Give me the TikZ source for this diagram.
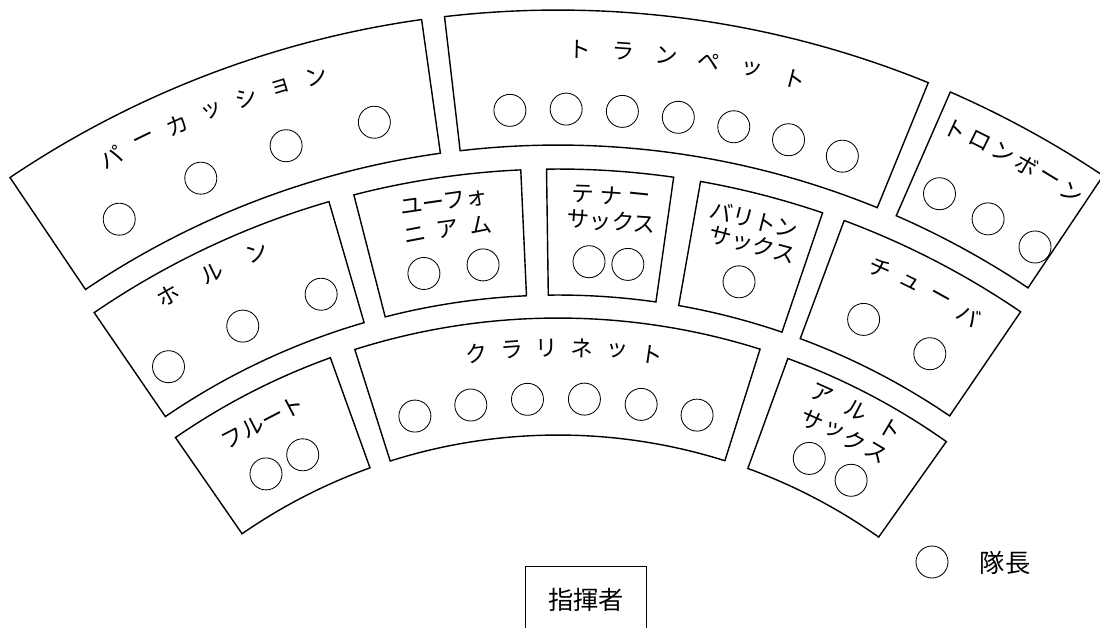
\documentclass[tikz,border=0pt]{standalone}
\usepackage{fontspec}
\newfontfamily\jp{Noto Sans CJK JP}
\newcommand\sectorbox[5]{% name, theta1, theta2, rin, rout
  \draw[box] ({90-(#2)}:#5) arc[start angle={90-(#2)}, end angle={90-(#3)}, radius=#5]
    -- ({90-(#3)}:#4) arc[start angle={90-(#3)}, end angle={90-(#2)}, radius=#4] -- cycle;
  \coordinate (#1) at ({90-((#2)+(#3))/2}:{((#4)+(#5))/2});}
\newcommand\arcword[5]{% prefix, radius, theta start, step, chars
  \foreach \ch [count=\idx from 0] in {#5}{%
    \pgfmathsetmacro\myT{#3+(#4)*\idx}%
    \pgfmathsetmacro\myA{90-(\myT)}%
    \pgfmathsetmacro\myR{-(\myT)}%
    \node[lbl, rotate=\myR] (#1\idx) at (\myA:#2) {\ch};}}
\newcommand\lineword[4]{% name, theta, radius, text
  \node[lbl, rotate={-(#2)}] (#1) at ({90-(#2)}:#3) {#4};}
\newcommand\seatrow[5]{% prefix, radius, theta start, step, count
  \foreach \idx in {1,...,#5}{%
    \pgfmathsetmacro\myT{#3+(#4)*(\idx-1)}%
    \pgfmathsetmacro\myA{90-(\myT)}%
    \node[seat] (#1\idx) at (\myA:#2) {};}}
\begin{document}
\begin{tikzpicture}[x=0.025cm,y=0.025cm,
  box/.style={line width=1pt, line join=miter},
  seat/.style={circle, draw, line width=0.6pt, minimum size=0.8cm, inner sep=0pt},
  lbl/.style={font=\jp\fontsize{16}{18}\selectfont, inner sep=0pt}]
\useasboundingbox (0,0) rectangle (1100,-627);
\begin{scope}[shift={(558,-990)}]
  % row 1
  \sectorbox{perc}{-34}{-8}{845}{980}
  \sectorbox{trp}{-6.65}{22.2}{845}{980}
  \sectorbox{trb}{23.6}{33.8}{845}{980}
  % row 2
  \sectorbox{hrn}{-34.4}{-16.2}{695}{821}
  \sectorbox{eup}{-14.4}{-2.6}{695}{821}
  \sectorbox{ten}{-0.8}{8.1}{695}{821}
  \sectorbox{bar}{10.0}{18.8}{695}{821}
  \sectorbox{tub}{20.4}{34.3}{695}{821}
  % row 3
  \sectorbox{flt}{-34.7}{-19.8}{555}{672}
  \sectorbox{cla}{-17.6}{17.5}{555}{672}
  \sectorbox{alt}{20.0}{35.3}{555}{672}
  % labels
  \arcword{percT}{945}{-28.2}{2.23}{パ,ー,カ,ッ,シ,ョ,ン}
  \arcword{trpT}{941}{1.34}{2.64}{ト,ラ,ン,ペ,ッ,ト}
  \arcword{trbT}{948}{24.8}{1.6}{ト,ロ,ン,ボ,ー,ン}
  \arcword{hrnT}{796}{-29.3}{3.55}{ホ,ル,ン}
  \lineword{eupA}{-8.24}{796}{ユーフォ}
  \arcword{eupB}{768.5}{-10.72}{2.49}{ニ,ア,ム}
  \arcword{tenA}{796}{1.8}{2.04}{テ,ナ,ー}
  \lineword{tenB}{3.97}{770.4}{サックス}
  \lineword{barA}{14.3}{795}{バリトン}
  \lineword{barB}{14.63}{770.5}{サックス}
  \arcword{tubT}{790}{24.03}{2.43}{チ,ュ,ー,バ}
  \lineword{fltT}{-27.46}{640}{フルート}
  \arcword{claT}{642}{-7.25}{3.13}{ク,ラ,リ,ネ,ッ,ト}
  \arcword{altA}{652}{23.85}{3.4}{ア,ル,ト}
  \arcword{altB}{624}{24.06}{2.18}{サ,ッ,ク,ス}
  % seats
  \seatrow{percS}{887}{-29.65}{5.9}{4}
  \seatrow{trpS}{881}{-3.13}{3.66}{7}
  \seatrow{trbS}{883}{25.6}{3.55}{3}
  \seatrow{hrnS}{735}{-32}{6.6}{3}
  \seatrow{eupS}{729}{-10.6}{4.7}{2}
  \seatrow{tenS}{729}{2.44}{3.06}{2}
  \seatrow{barS}{731}{14.34}{0}{1}
  \seatrow{tubS}{737}{24.5}{5.8}{2}
  \seatrow{fltS}{593}{-29.5}{4}{2}
  \seatrow{claS}{591.5}{-14}{5.52}{6}
  \seatrow{altS}{588}{25.3}{4.6}{2}
\end{scope}
% conductor
\node[draw, line width=0.7pt, minimum width=3cm, minimum height=1.7cm, inner sep=0pt,
  font=\jp\fontsize{18}{20}\selectfont] (cond) at (586,-600) {指揮者};
% legend
\node[seat] (legS) at (932,-562) {};
\node[font=\jp\fontsize{18}{20}\selectfont, inner sep=0pt] (legT) at (1005,-563) {隊長};
\end{tikzpicture}
\end{document}
